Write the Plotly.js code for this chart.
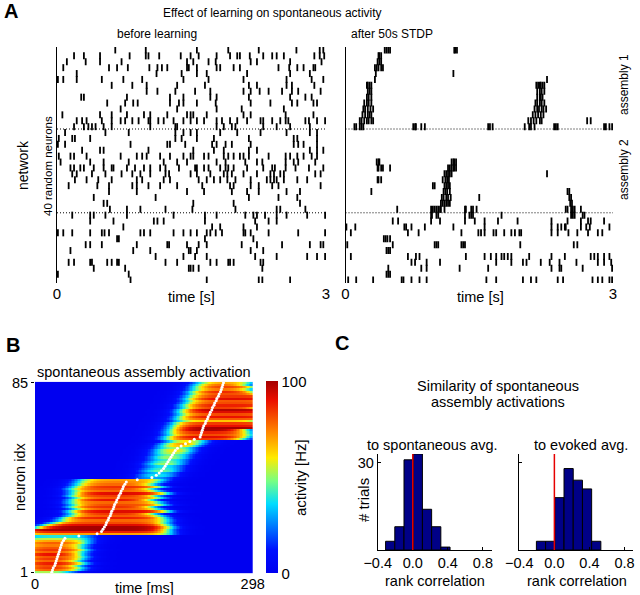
<!DOCTYPE html>
<html><head><meta charset="utf-8">
<script src="https://cdn.plot.ly/plotly-3.0.1.min.js"></script>
<style>html,body{margin:0;padding:0;background:#fff;}#chart{width:640px;height:595px;}</style>
</head><body><div id="chart"></div>
<script>
// ---------- Panel A: spike times (s), rows listed from top (row 40) to bottom (row 1) ----------
const beforeSpikes = [
[0.65,0.99,1.56,1.91,2.25,2.67,2.93,2.97],
[0.19,0.30,0.48,0.81,0.99,1.02,1.14,1.38,1.49,1.58,1.78,1.93,2.01,2.04,2.15,2.30,2.40,2.45,2.53,2.87,2.93,2.98],
[0.11,0.32,0.48,0.72,1.45,1.52,1.69,1.77,2.16,2.23,2.60,2.95],
[0.07,0.58,0.67,0.79,1.03,1.12,1.17,1.23,1.45,1.47,1.56,1.78,1.82,1.97,2.04,2.47,2.59,2.68,2.75,2.86,2.88],
[0.22,1.11,1.39,1.56,1.67,2.12,2.60,2.82],
[0.01,0.07,0.22,0.50,0.74,0.95,1.41,1.69,2.08,2.56,2.84,2.97],
[0.61,0.84,1.00,1.34,1.65,2.14,2.23,2.56,2.62,2.87],
[1.00,1.12,1.32,1.54,1.71,2.08,2.16,2.26,2.36,2.51,2.62,2.69,2.94],
[0.27,0.30,0.78,1.26,1.41,1.71,1.78,2.14,2.60,2.77,2.84],
[0.56,0.76,0.85,0.90,1.26,1.36,1.41,1.56,1.77,2.16,2.38,2.62,2.68,2.86,2.90],
[0.71,1.34,1.78,2.06,2.53],
[0.06,0.48,0.61,0.78,0.97,1.04,1.23,1.45,1.49,1.52,1.67,2.08,2.16,2.55,2.86],
[0.22,0.28,0.33,0.50,0.61,0.71,0.76,0.84,0.91,1.02,1.04,1.13,1.19,1.30,1.41,1.49,1.56,1.64,1.78,1.84,1.93,2.01,2.12,2.27,2.30,2.40,2.49,2.55,2.58,2.77,2.81,2.90,2.99],
[0.19,0.30,0.35,0.39,0.43,0.52,0.61,1.04,1.32,1.34,1.78,1.86,1.95,1.99,2.30,2.45,2.60,2.82],
[0.09,0.54,0.80,1.32,1.41,1.49,1.56,1.82,2.01,2.27,2.56,2.82,2.90],
[0.02,0.17,0.20,0.37,1.32,1.39,1.56,1.75,2.14,2.64,2.68,2.90],
[0.01,0.09,0.82,1.23,1.26,1.43,1.73,1.78,1.88,1.95,2.16,2.64,2.69,2.75,2.90],
[0.28,0.48,0.52,1.02,1.52,1.75,1.86,2.14,2.23,2.82,2.90,2.97],
[0.02,0.15,0.19,0.33,0.71,0.89,0.95,1.00,1.15,1.26,1.41,1.49,1.52,1.64,1.69,1.86,1.91,1.97,2.04,2.08,2.14,2.36,2.55,2.60,2.68,2.75,2.84,2.90],
[0.04,0.37,0.52,0.80,1.19,1.34,1.45,1.78,1.88,2.10,2.23,2.29,2.55,2.64,2.69,2.88],
[0.15,0.19,0.26,0.30,0.41,0.52,0.61,0.63,0.78,0.87,0.97,1.04,1.15,1.21,1.36,1.54,1.56,1.64,1.69,1.82,1.88,1.91,1.97,2.12,2.30,2.40,2.43,2.55,2.66,2.81,2.97],
[0.17,0.22,0.39,0.54,0.72,0.84,0.93,1.04,1.21,1.25,1.49,1.56,1.71,1.86,1.90,1.95,2.08,2.23,2.38,2.42,2.49,2.53,2.88,2.94],
[0.20,0.33,0.46,0.61,0.89,0.95,1.19,1.26,1.58,1.67,1.75,1.82,1.90,1.99,2.16,2.34,2.38,2.42,2.45,2.53,2.68,2.79],
[0.13,0.45,0.58,0.84,0.89,1.02,1.15,1.34,1.62,1.93,1.97,2.16,2.25,2.40,2.47,2.94],
[0.58,0.89,1.45,1.64,1.95,2.12,2.25,2.56,2.71],
[0.41,1.10,2.14,2.47,2.68],
[0.52,0.56,1.52,1.97,2.71],
[0.59,0.78,0.93,1.21,1.51,1.99,2.45,2.49,2.77],
[0.17,0.37,0.41,0.54,0.78,1.30,1.65,1.78,2.10,2.19,2.23,2.32,2.45,2.56,2.79,2.99],
[0.37,0.63,1.08,1.12,1.19,1.65,2.21,2.36,2.45],
[0.74,1.73,1.82,2.08,2.23],
[0.01,0.07,0.17,0.37,0.50,0.53,0.58,0.93,0.97,1.04,1.30,1.41,1.49,1.56,1.67,1.71,1.77,1.84,2.08,2.10,2.16,2.36,2.69,2.99],
[0.67,0.69,1.65,2.19],
[0.32,0.37,0.50,0.89,1.23,1.25,1.45,1.58,1.67,2.06,2.23,2.51,2.82,2.94,2.97],
[0.15,0.85,1.04,1.47,1.49,1.56,2.16,2.30],
[1.10,1.41,1.54,1.67,2.21,2.45,2.79,2.90,2.99],
[0.13,0.19,0.37,0.39,0.56,0.61,0.67,0.69,1.21,1.34,1.71,1.78,1.91,1.93,1.97,2.27,2.30],
[0.41,0.76,1.47,1.49,1.52,1.58,2.29],
[0.01,0.80],
[0.82,1.67,2.25,2.29,2.60]
];
const afterSpikes = [
[0.44,0.46,0.48,0.50,1.22,1.23,1.25],
[0.37,0.38,0.40],
[0.36,0.38,0.40],
[0.33,0.35,0.37,0.40,0.42],
[0.34,1.21],
[0.33,2.26],
[0.24,0.25,0.27,0.29,2.14,2.16,2.18,2.19,2.21,2.23],
[0.25,0.27,0.29,2.15,2.18,2.20,2.23],
[0.24,0.26,0.29,2.15,2.18,2.19,2.21],
[0.21,0.24,0.26,0.29,2.13,2.15,2.18,2.20,2.23],
[0.20,0.22,0.25,0.28,0.31,2.12,2.15,2.17,2.20,2.22,2.25],
[0.19,0.22,0.25,0.27,0.29,2.10,2.13,2.16,2.19,2.22],
[0.16,0.18,0.21,0.24,0.26,0.29,0.31,2.05,2.08,2.11,2.14,2.18,2.20,2.71,2.75],
[0.10,0.12,0.16,0.18,0.20,0.76,0.78,0.79,0.85,0.89,1.60,1.62,1.65,2.01,2.06,2.08,2.12,2.34,2.36,2.38,2.90,2.92,2.96,2.99],
[],[],[],[],[],
[0.35,0.37,0.38,1.19,1.21,1.22,1.24],
[0.36,0.37,0.40,0.42,0.50,1.15,1.17,1.19,1.21,1.22,1.24],
[1.11,1.13,1.15,1.17,1.19,2.26],
[0.36,0.37,0.40,1.09,1.12,1.14,1.16],
[0.98,1.00,1.11,1.13,1.15,1.17],
[0.29,1.10,1.12,1.14,1.17,2.49,2.51],
[1.08,1.10,1.13,1.15,1.18,1.50,2.51,2.53],
[1.07,1.09,1.11,1.13,1.15,1.17,2.52,2.54],
[0.58,0.96,0.98,1.00,1.02,1.04,1.06,1.07,1.11,1.34,1.35,1.41,1.43,1.47,2.47,2.49,2.53,2.55,2.57,2.64],
[0.96,0.97,1.02,1.04,1.34,1.39,1.41,1.43,1.75,2.53,2.55,2.57,2.66,2.68],
[0.53,0.59,0.96,1.06,1.34,1.45,1.56,1.71,1.93,2.31,2.49,2.64,2.72,2.75,2.90],
[0.01,0.11,0.66,0.68,0.74,0.89,1.21,1.56,2.31,2.38,2.42,2.46,2.47,2.64,2.70,2.74,2.96],
[0.06,0.70,0.82,1.30,1.49,1.52,1.56,1.66,1.69,1.78,1.86,1.90,1.95,1.97,2.31,2.38,2.50,2.60,2.72,2.83,2.88],
[0.43,0.45,0.47,0.50],
[0.02,0.53,1.00,1.02,1.04,1.30,1.32,1.34,1.96,2.56,2.60],
[0.46,0.48,0.50],
[0.06,0.70,0.79,0.83,1.35,1.56,1.63,1.69,1.75,1.78,1.82,1.86,2.06,2.31,2.46,2.75,2.79,2.83,2.90,2.96],
[0.74,0.78,0.91,1.06,1.69,1.86,1.99,2.03,2.19,2.29,2.40,2.59,2.83,2.90,2.98],
[0.48,0.85,0.91,1.28,1.60,2.31,2.40,2.42,2.66,2.99],
[0.46,0.48,0.50],
[0.03,0.12,0.31,0.63,0.65,0.74,0.83,0.91,1.58,1.69,1.99,2.08,2.14,2.38,2.44,2.77,2.83,2.88,2.96,2.99]
];
const rasterTicks = [0, 3];
const groupBoundaries = [26.6, 12.4];   // dotted separators (row units)

// ---------- Panel B: per-neuron activity profile (neuron 1..85) ----------
const heatOnset = [
-20,-20,-20,-20,-20,-20,-20,-20,-20,-20,-20,-20,-20,-20,-20,-20,-20,
-20,-20,-20,5,15,25,35,40,
48,52,50,55,50,53,49,52,55,50,54,52,50,55,58,60,62,
140,145,148,150,152,154,156,158,160,162,164,166,168,170,174,178,184,
180,182,185,185,188,190,190,192,195,195,198,200,200,202,205,205,208,210,210,212,215,215,218,220,222,225];
const heatOffset = [
50,60,62,58,65,60,63,66,62,65,68,64,66,70,72,75,78,
185,182,180,183,180,178,180,176,
172,162,180,168,160,175,170,158,172,165,178,168,160,172,162,170,175,
185,190,192,195,197,199,201,203,205,207,209,211,213,215,220,225,230,
285,290,295,292,288,330,330,330,310,330,330,330,330,330,310,330,330,330,330,330,310,300,295,300,290,295];
const heatPeak = [
55,80,86,84,90,80,86,82,92,80,86,82,76,80,70,55,40,
70,88,100,100,92,82,78,88,80,85,92,80,86,82,78,90,80,84,92,78,82,86,78,74,70,
35,45,40,55,50,45,60,55,50,60,55,65,70,60,75,80,70,
85,92,82,88,100,100,90,84,65,80,90,82,92,98,84,88,82,80,92,85,82,88,78,85,80,72];
const heatDots = [
23,24,25,27,28,29,30,31,32,33,34,35,36,37,39,41,60,
85,91,
93,95,97,98,100,101,103,104,105,107,108,109,111,112,114,115,117,118,120,121,123,125,140,
160,166,170,173,176,178,180,182,184,186,188,190,192,195,200,206,212,
218,226,227,228,229,230,231,233,234,236,237,239,240,242,243,245,246,248,249,251,252,254,255,256,257,258];
const heatXTicks = [0, 298];
const heatYTicks = [1, 85];
const colorbarTicks = [0, 100];

// ---------- Panel C: histograms of rank correlation ----------
const binWidth = 0.105;
const spontCenters = [-0.2575,-0.1525,-0.0475,0.0575,0.1625,0.2675,0.3725];
const spontCounts  = [3,8,31,33,14,8,1];
const evokedCenters = [-0.1525,-0.0475,0.0575,0.1625,0.2675,0.3725,0.4775];
const evokedCounts  = [3,3,18,28,24,21,3];
const histXTicks = [-0.4,0,0.4,0.8];
const histXTickText = ['\u22120.4','0.0','0.4','0.8'];
const histYTicks = [30];

// ---------- build ----------
const W = 640, H = 595;
const X = p => p / W, Y = p => 1 - p / H;
const FONT = 'Liberation Sans, Arial, Helvetica, sans-serif';

function rasterXY(rows) {
  const x = [], y = [];
  rows.forEach((r, i) => { const n = rows.length - i; r.forEach(t => { x.push(t); y.push(n); }); });
  return {x, y};
}
const rb = rasterXY(beforeSpikes), ra = rasterXY(afterSpikes);
const spikeMarker = {symbol: 'line-ns', size: 5, color: 'black', line: {color: 'black', width: 1.8}};

const neuronIdx = heatPeak.map((_, i) => i + 1);
const heatTimes = []; for (let t = 0; t <= 298; t += 2) heatTimes.push(t);
const sig = v => 1 / (1 + Math.exp(-v));
const heatZ = neuronIdx.map((n, i) => heatTimes.map(t =>
  heatPeak[i] * sig((t - heatOnset[i]) / 9) * sig((heatOffset[i] - t) / 9)));

const jet = [[0,'rgb(0,0,240)'],[0.12,'rgb(0,15,255)'],[0.36,'rgb(0,220,255)'],[0.48,'rgb(120,255,130)'],
  [0.6,'rgb(255,235,0)'],[0.74,'rgb(255,130,0)'],[0.9,'rgb(235,15,0)'],[1,'rgb(165,0,0)']];

const traces = [
  {type:'scatter', mode:'markers', x: rb.x, y: rb.y, xaxis:'x', yaxis:'y', marker: spikeMarker, hoverinfo:'skip'},
  {type:'scatter', mode:'markers', x: ra.x, y: ra.y, xaxis:'x2', yaxis:'y2', marker: spikeMarker, hoverinfo:'skip'},
  {type:'heatmap', x: heatTimes, y: neuronIdx, z: heatZ, xaxis:'x3', yaxis:'y3', colorscale: jet, zmin: 0, zmax: 100,
   zsmooth: false,
   colorbar: {x: X(266), xanchor:'left', xref:'paper', thickness: 12, thicknessmode:'pixels',
     len: (573.3 - 381.7) / H, lenmode:'fraction', y: Y(573.3), yanchor:'bottom', yref:'paper',
     tickvals: colorbarTicks, ticks:'', tickfont:{size:15, family:FONT, color:'black'},
     outlinewidth: 0, xpad: 0, ypad: 0}},
  {type:'scatter', mode:'markers', x: heatDots, y: neuronIdx, xaxis:'x3', yaxis:'y3',
   marker:{color:'white', size:3}, hoverinfo:'skip'},
  {type:'bar', x: spontCenters, y: spontCounts, width: binWidth, xaxis:'x4', yaxis:'y4',
   marker:{color:'rgb(0,0,135)', line:{color:'black', width:1}}},
  {type:'bar', x: evokedCenters, y: evokedCounts, width: binWidth, xaxis:'x5', yaxis:'y5',
   marker:{color:'rgb(0,0,135)', line:{color:'black', width:1}}}
];

const rasterX = (dom, anchor) => ({domain: dom, anchor, range:[0,3], showline:false, showgrid:false, zeroline:false,
  tickvals: rasterTicks, ticks:'', tickfont:{size:15}});
const rasterY = (anchor) => ({domain:[Y(283), Y(47)], anchor, range:[0.5,40.5], showline:true, linecolor:'black',
  linewidth:1, showticklabels:false, ticks:'', showgrid:false, zeroline:false});
const histX = (dom, anchor) => ({domain: dom, anchor, range:[-0.4,0.9], showline:true, linecolor:'black', linewidth:1,
  tickvals: histXTicks, ticktext: histXTickText, ticks:'inside', ticklen:3, tickcolor:'black',
  showgrid:false, zeroline:false, tickfont:{size:14.5}});
const histY = (anchor, labels) => ({domain:[Y(550), Y(454)], anchor, range:[0,33], showline:true, linecolor:'black',
  linewidth:1, tickvals: histYTicks, ticks:'inside', ticklen:3, tickcolor:'black', showticklabels: labels,
  showgrid:false, zeroline:false, tickfont:{size:14.5}});

const shapes = [];
[['x','y'],['x2','y2']].forEach(([xa, ya]) => groupBoundaries.forEach(b => shapes.push(
  {type:'line', xref:xa, yref:ya, x0:0, x1:3, y0:b, y1:b, line:{color:'black', width:1, dash:'1px,2px'}})));
[['x4','y4'],['x5','y5']].forEach(([xa, ya]) => shapes.push(
  {type:'line', xref:xa, yref:ya, x0:0, x1:0, y0:0, y1:33, line:{color:'rgb(230,0,0)', width:1.5}}));

function ann(text, x, y, size, extra) {
  return Object.assign({text, x: X(x), y: Y(y), xref:'paper', yref:'paper', showarrow:false,
    xanchor:'center', yanchor:'middle', font:{size, family:FONT, color:'black'}}, extra || {});
}
const annotations = [
  ann('<b>A</b>', 2, 11, 20, {xanchor:'left'}),
  ann('Effect of learning on spontaneous activity', 272, 13, 12),
  ann('before learning', 157, 34, 12),
  ann('after 50s STDP', 392, 34, 12),
  ann('network', 23, 165, 14, {textangle:-90}),
  ann('40 random neurons', 48, 166, 11.5, {textangle:-90}),
  ann('time [s]', 191, 297, 14.5),
  ann('time [s]', 480, 297, 14.5),
  ann('assembly 1', 624, 85, 12, {textangle:-90}),
  ann('assembly 2', 624, 170, 12, {textangle:-90}),
  ann('<b>B</b>', 4, 345, 20, {xanchor:'left'}),
  ann('spontaneous assembly activation', 144, 372, 14.5),
  ann('neuron idx', 20, 477, 14.5, {textangle:-90}),
  ann('time [ms]', 144, 588, 14.5),
  ann('activity [Hz]', 300, 478, 15, {textangle:-90}),
  ann('<b>C</b>', 333, 343, 20, {xanchor:'left'}),
  ann('Similarity of spontaneous', 498, 386, 14.5),
  ann('assembly activations', 498, 402, 14.5),
  ann('to spontaneous avg.', 432, 445, 14.5),
  ann('to evoked avg.', 581, 445, 14.5),
  ann('# trials', 363, 500, 15, {textangle:-90}),
  ann('rank correlation', 435, 581, 14.5),
  ann('rank correlation', 577, 581, 14.5)
];

const layout = {
  width: W, height: H, margin:{l:0, r:0, t:0, b:0}, showlegend:false,
  paper_bgcolor:'white', plot_bgcolor:'white', bargap:0,
  font:{family:FONT, color:'black', size:14},
  xaxis: rasterX([X(57), X(326)], 'y'),
  yaxis: rasterY('x'),
  xaxis2: rasterX([X(345.5), X(613)], 'y2'),
  yaxis2: rasterY('x2'),
  xaxis3: {domain:[X(35), X(252.7)], anchor:'y3', range:[0,298], tickvals: heatXTicks, ticks:'',
    showline:false, showgrid:false, zeroline:false, tickfont:{size:14.5}},
  yaxis3: {domain:[Y(573.3), Y(381.7)], anchor:'x3', range:[0.5,85.5], tickvals: heatYTicks, ticks:'outside',
    ticklen:3, tickcolor:'black', showline:false, showgrid:false, zeroline:false, tickfont:{size:14.5}},
  xaxis4: histX([X(377.7), X(491.7)], 'y4'),
  yaxis4: histY('x4', true),
  xaxis5: histX([X(519.3), X(633.3)], 'y5'),
  yaxis5: histY('x5', false),
  shapes, annotations
};

Plotly.newPlot('chart', traces, layout, {staticPlot:true, displayModeBar:false});
</script>
</body></html>
